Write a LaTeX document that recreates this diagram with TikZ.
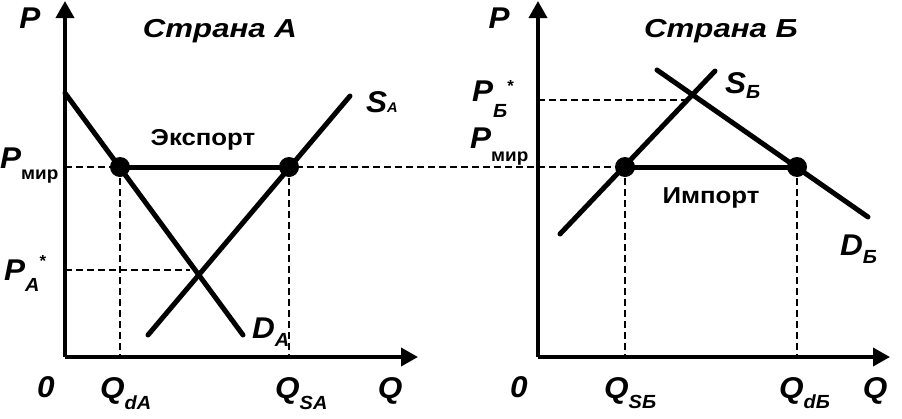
\documentclass[tikz,border=0pt]{standalone}
\usepackage{fontspec}
\usetikzlibrary{arrows.meta}
\newfontfamily\fTitle[FakeStretch=1.2]{Liberation Sans}
\newfontfamily\fWord[FakeStretch=1.12]{Liberation Sans}
\newfontfamily\fLet[FakeStretch=1.05]{Liberation Sans}
\newcommand\bigL{\fLet\bfseries\itshape\fontsize{30}{30}\selectfont}
\newcommand\subI{\fLet\bfseries\itshape\fontsize{19}{19}\selectfont}
\newcommand\subU{\fLet\bfseries\upshape\fontsize{18}{18}\selectfont}
\newcommand\subS{\fLet\bfseries\itshape\fontsize{14}{14}\selectfont}
\newcommand\starF{\fLet\bfseries\upshape\fontsize{16}{16}\selectfont}
\begin{document}
\begin{tikzpicture}[x=1pt,y=-1pt,
  axis/.style={line width=3.6pt,-{Triangle[length=17pt,width=18pt]}},
  curve/.style={line width=5pt,line cap=round},
  flow/.style={line width=5pt},
  guide/.style={line width=1.6pt,dash pattern=on 7pt off 4pt},
  dot/.style={circle,fill=black,inner sep=0pt,minimum size=20pt},
  lbl/.style={inner sep=0pt,font=\bigL},
  title/.style={inner sep=0pt,font=\fTitle\bfseries\itshape\fontsize{26}{26}\selectfont},
  word/.style={inner sep=0pt,font=\fWord\bfseries\fontsize{23}{23}\selectfont}]
\useasboundingbox (0,0) rectangle (902,418);
% ---------- Country A ----------
\coordinate (OA) at (65,357);
\coordinate (PAtop) at (65,1);
\coordinate (QAend) at (418,357);
\coordinate (DA1) at (65,93);
\coordinate (DA2) at (243,335);
\coordinate (SA1) at (148,335);
\coordinate (SA2) at (350,96);
\coordinate (pmA) at (65,167);
\coordinate (psA) at (65,270);
\coordinate (psAe) at (190,270);
\coordinate (qdA) at (120,357);
\coordinate (qsA) at (289,357);
% ---------- Country B ----------
\coordinate (OB) at (538,357);
\coordinate (PBtop) at (538,1);
\coordinate (QBend) at (890,357);
\coordinate (DB1) at (657,70);
\coordinate (DB2) at (868,217);
\coordinate (SB1) at (560,234);
\coordinate (SB2) at (715,71);
\coordinate (psB) at (538,100);
\coordinate (psBe) at (688,100);
\coordinate (qsB) at (625,357);
\coordinate (qdB) at (797,357);
% guides
\draw[guide] (pmA) -- (625,167) coordinate (pmBe);
\draw[guide] (psA) -- (psAe);
\draw[guide] (psB) -- (psBe);
\node[dot] (EA) at (120,167) {};
\node[dot] (FA) at (289,167) {};
\node[dot] (EB) at (625,167) {};
\node[dot] (FB) at (797,167) {};
\draw[guide] (EA.center) -- (qdA);
\draw[guide] (FA.center) -- (qsA);
\draw[guide] (EB.center) -- (qsB);
\draw[guide] (FB.center) -- (qdB);
% axes
\draw[axis] (OA) -- (PAtop);
\draw[axis] (OA) -- (QAend);
\draw[axis] (OB) -- (PBtop);
\draw[axis] (OB) -- (QBend);
% curves
\draw[curve] (DA1) -- (DA2);
\draw[curve] (SA1) -- (SA2);
\draw[curve] (DB1) -- (DB2);
\draw[curve] (SB1) -- (SB2);
\draw[flow] (EA.center) -- (FA.center);
\draw[flow] (EB.center) -- (FB.center);
% labels A
\node[lbl,anchor=base] (lPA) at (30,28) {P};
\node[title,anchor=base] (tA) at (220,37) {Страна А};
\node[word,anchor=base] (exA) at (203,145) {Экспорт};
\node[lbl,anchor=base west] (lSA) at (366,112) {S\raisebox{0pt}{\subS А}};
\node[lbl,anchor=base west] (lPmA) at (0,168) {P\raisebox{-11pt}{\subU мир}};
\node[lbl,anchor=base west] (lPsA) at (4,280) {P\raisebox{-11pt}{\subI A}\raisebox{14pt}{\starF *}};
\node[lbl,anchor=base west] (lDA) at (252,338) {D\raisebox{-8pt}{\subI A}};
\node[lbl,anchor=base] (l0A) at (46,397) {0};
\node[lbl,anchor=base west] (lQdA) at (100,398) {Q\raisebox{-11pt}{\subI dA}};
\node[lbl,anchor=base west] (lQsA) at (275,398) {Q\raisebox{-11pt}{\subI SA}};
\node[lbl,anchor=base] (lQA) at (390,398) {Q};
% labels B
\node[lbl,anchor=base] (lPB) at (499,28) {P};
\node[title,anchor=base] (tB) at (721,37) {Страна Б};
\node[word,anchor=base] (imB) at (711,203) {Импорт};
\node[lbl,anchor=base west] (lSB) at (725,93) {S\raisebox{-5pt}{\subI Б}};
\node[lbl,anchor=base west] (lPsB) at (472,101) {P\raisebox{-16pt}{\subI Б}\raisebox{10pt}{\starF *}};
\node[lbl,anchor=base west] (lPmB) at (470,148) {P\raisebox{-13pt}{\subU мир}};
\node[lbl,anchor=base west] (lDB) at (840,255) {D\raisebox{-8pt}{\subI Б}};
\node[lbl,anchor=base] (l0B) at (519,397) {0};
\node[lbl,anchor=base west] (lQsB) at (604,398) {Q\raisebox{-10pt}{\subI SБ}};
\node[lbl,anchor=base west] (lQdB) at (779,398) {Q\raisebox{-10pt}{\subI dБ}};
\node[lbl,anchor=base] (lQB) at (875,398) {Q};
\end{tikzpicture}
\end{document}
